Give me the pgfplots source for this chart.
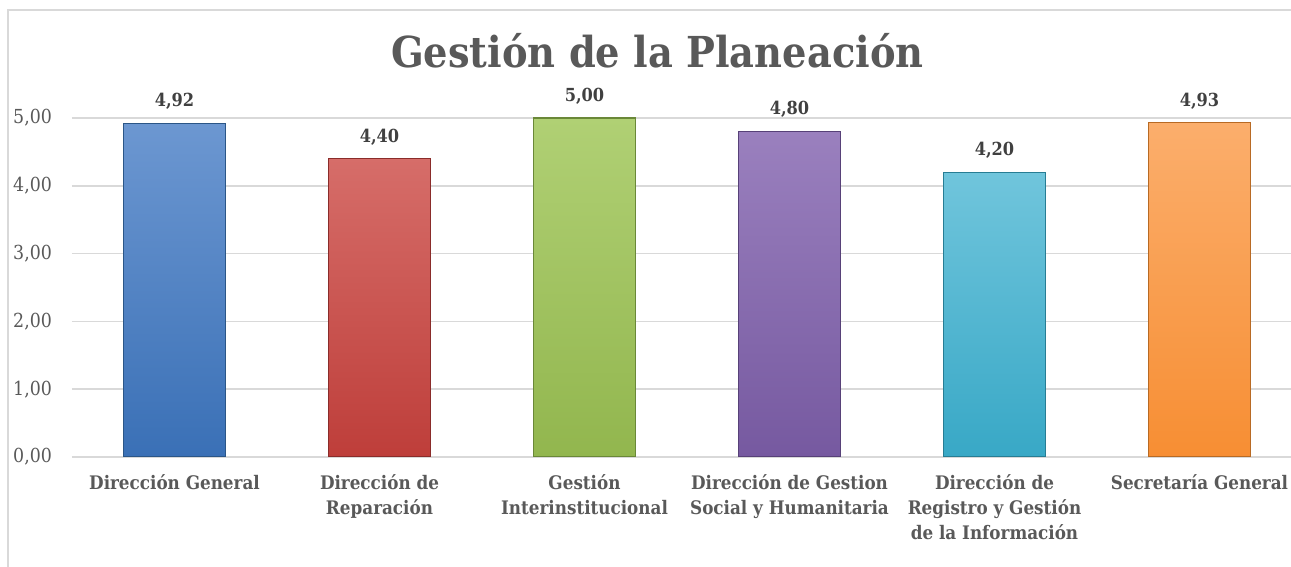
\documentclass[border=0pt]{standalone}
\usepackage{fontspec}
\setmainfont{DejaVu Serif Condensed}
\usepackage{pgfplots}
\pgfplotsset{compat=1.18}

\definecolor{txtgrey}{HTML}{595959}
\definecolor{lblgrey}{HTML}{404040}
\definecolor{gridgrey}{HTML}{D9D9D9}
\definecolor{blueT}{HTML}{6C97D1}\definecolor{blueB}{HTML}{3A70B6}\definecolor{blueD}{HTML}{2B5687}
\definecolor{redT}{HTML}{D66D69}\definecolor{redB}{HTML}{BE3E3A}\definecolor{redD}{HTML}{8A2C2A}
\definecolor{greenT}{HTML}{B0D074}\definecolor{greenB}{HTML}{92B64E}\definecolor{greenD}{HTML}{6A8838}
\definecolor{purpleT}{HTML}{9A80BE}\definecolor{purpleB}{HTML}{7659A0}\definecolor{purpleD}{HTML}{574178}
\definecolor{cyanT}{HTML}{70C5DC}\definecolor{cyanB}{HTML}{38A8C6}\definecolor{cyanD}{HTML}{277D94}
\definecolor{orangeT}{HTML}{FBAE6C}\definecolor{orangeB}{HTML}{F78E33}\definecolor{orangeD}{HTML}{B86A24}

\begin{document}
\begin{tikzpicture}
% page: 1291 x 567 px, 1px = 0.75pt
\useasboundingbox (0,0) rectangle (968.25pt,425.25pt);
\clip (0,0) rectangle (968.25pt,425.25pt);
\draw[gridgrey, line width=1.2pt] (6pt,-10pt) rectangle (980pt,417.75pt);

\node[font=\bfseries\fontsize{32}{38}\selectfont, text=txtgrey, anchor=base, inner sep=0pt] at (493pt,374.25pt) {Gestión de la Planeación};

\begin{axis}[
    at={(54pt,82.5pt)}, anchor=south west,
    scale only axis, width=922.5pt, height=254.25pt,
    ybar, bar width=76.5pt, bar shift=0pt,
    xmin=-0.5, xmax=5.5, ymin=0, ymax=5,
    xtick={0,1,2,3,4,5},
    xticklabels={{Dirección General},{Dirección de\\Reparación},{Gestión\\Interinstitucional},{Dirección de Gestion\\Social y Humanitaria},{Dirección de\\Registro y Gestión\\de la Información},{Secretaría General}},
    x tick label style={font=\bfseries\fontsize{14}{18.4}\selectfont, text=txtgrey, align=center, anchor=north, yshift=-10pt},
    ytick={0,1,2,3,4,5},
    y tick label style={font=\fontsize{14.5}{16}\selectfont, text=txtgrey, xshift=-11.5pt},
    /pgf/number format/.cd, fixed, fixed zerofill, precision=2, use comma, assume math mode=true,
    /pgfplots/.cd,
    ymajorgrids, grid style={gridgrey, line width=1.2pt},
    axis line style={draw=none},
    major tick length=0pt,
    every axis plot/.append style={line width=1pt},
    nodes near coords,
    every node near coord/.append style={font=\bfseries\fontsize{13.5}{16}\selectfont, text=lblgrey, anchor=base, yshift=12.5pt},
]
\addplot[draw=blueD, top color=blueT, bottom color=blueB] coordinates {(0,4.92)};
\addplot[draw=redD, top color=redT, bottom color=redB] coordinates {(1,4.40)};
\addplot[draw=greenD, top color=greenT, bottom color=greenB] coordinates {(2,5.00)};
\addplot[draw=purpleD, top color=purpleT, bottom color=purpleB] coordinates {(3,4.80)};
\addplot[draw=cyanD, top color=cyanT, bottom color=cyanB] coordinates {(4,4.20)};
\addplot[draw=orangeD, top color=orangeT, bottom color=orangeB] coordinates {(5,4.93)};
\end{axis}
\end{tikzpicture}
\end{document}
